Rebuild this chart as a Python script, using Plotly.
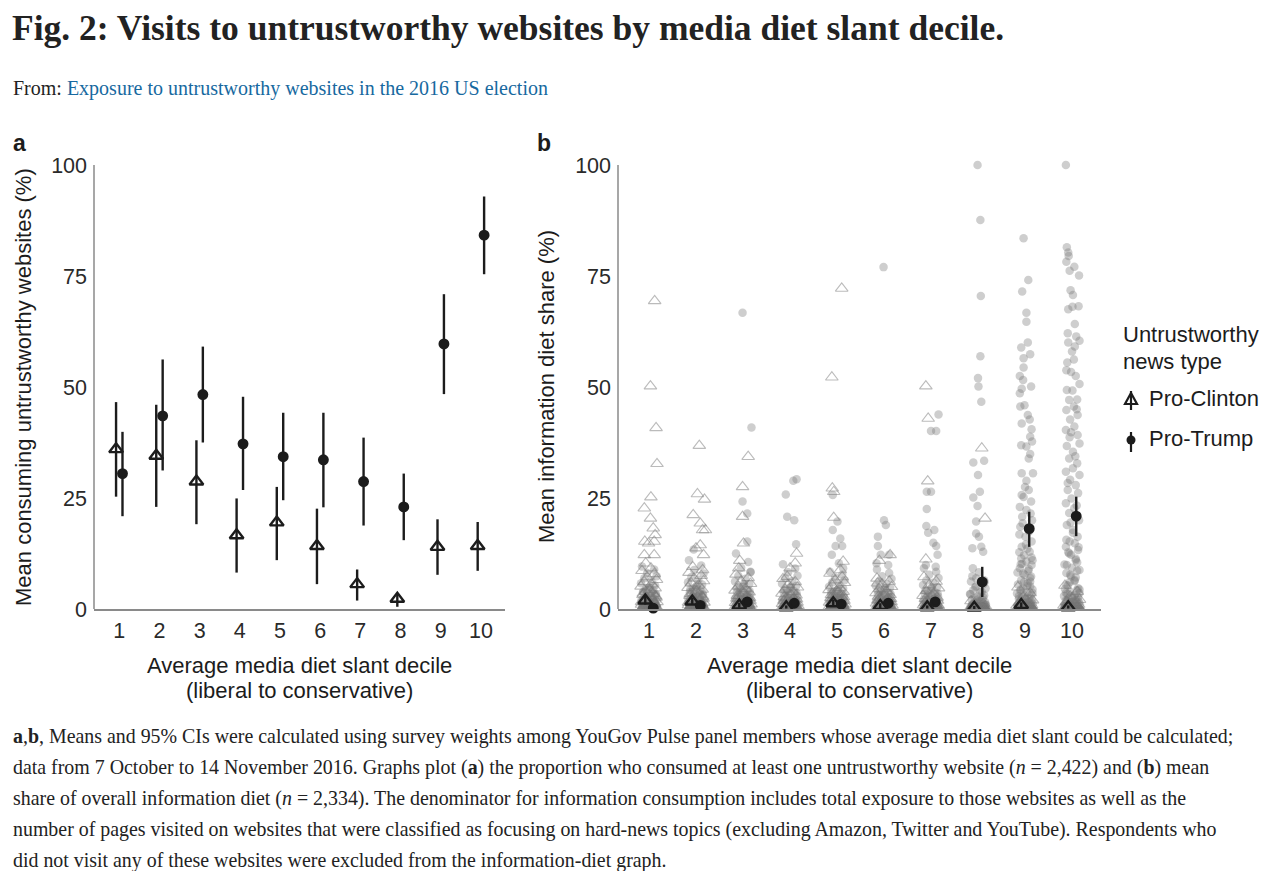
import plotly.graph_objects as go

# ---------------- data ----------------
deciles = [1, 2, 3, 4, 5, 6, 7, 8, 9, 10]
tick_labels = ["1", "2", "3", "4", "5", "6", "7", "8", "9", "10"]
y_ticks = [0, 25, 50, 75, 100]

# Panel a: share consuming untrustworthy websites (%)
a_clinton_mean = [36.0, 34.5, 28.7, 16.6, 19.5, 14.2, 5.6, 2.3, 14.0, 14.2]
a_clinton_lo = [25.3, 23.0, 19.1, 8.2, 11.0, 5.6, 1.9, 0.5, 7.7, 8.6]
a_clinton_hi = [46.6, 46.0, 38.0, 24.9, 27.5, 22.6, 8.9, 3.5, 20.2, 19.6]
a_trump_mean = [30.5, 43.5, 48.3, 37.2, 34.3, 33.6, 28.7, 23.0, 59.7, 84.2]
a_trump_lo = [20.9, 31.2, 37.5, 26.8, 24.5, 22.9, 18.8, 15.5, 48.4, 75.4]
a_trump_hi = [39.9, 56.2, 59.1, 47.8, 44.2, 44.2, 38.6, 30.5, 70.9, 92.9]

# Panel b: mean information diet share (%)
b_clinton_mean = [1.9, 1.7, 0.8, 0.4, 1.3, 0.7, 0.4, 0.3, 0.9, 0.4]
b_clinton_lo = [1.0, 1.0, 0.3, 0.1, 0.6, 0.2, 0.1, 0.0, 0.4, 0.1]
b_clinton_hi = [2.9, 2.5, 1.4, 0.8, 2.1, 1.3, 0.8, 0.7, 1.5, 0.8]
b_trump_mean = [0.2, 0.8, 1.6, 1.3, 1.1, 1.3, 1.6, 6.1, 18.1, 20.9]
b_trump_lo = [0.0, 0.4, 0.9, 0.7, 0.6, 0.7, 0.9, 2.7, 14.0, 16.4]
b_trump_hi = [0.5, 1.3, 2.4, 1.9, 1.7, 2.0, 2.4, 9.5, 21.9, 25.3]

# Panel b: individual respondents (jitter offset, share %)
clinton_high = {
    1: [(0.12, 69.4), (0.03, 50.2), (0.15, 40.8), (0.17, 32.7), (0.04, 25.2), (-0.10, 22.7),
        (0.03, 20.4), (0.09, 18.2), (0.13, 16.7), (-0.09, 15.2), (0.11, 15.2), (-0.01, 14.8),
        (-0.10, 12.2), (0.11, 12.2), (-0.07, 10.3), (0.04, 9.2)],
    2: [(0.07, 36.8), (0.03, 25.9), (0.18, 24.7), (-0.06, 21.2), (0.09, 19.3), (0.14, 17.8),
        (0.20, 17.8), (0.09, 14.4), (0.00, 13.7), (0.16, 12.2), (-0.07, 9.5), (0.14, 8.8)],
    3: [(0.11, 34.3), (-0.01, 27.5), (-0.01, 20.8), (0.01, 14.8), (-0.07, 10.9), (-0.09, 9.2)],
    4: [(0.14, 12.5), (0.11, 10.3), (0.00, 9.2), (-0.06, 7.3)],
    5: [(0.10, 72.2), (-0.11, 52.2), (-0.10, 27.2), (-0.07, 26.4), (-0.07, 20.6), (0.13, 10.7),
        (0.07, 8.8)],
    6: [(0.13, 12.2), (-0.10, 10.9), (-0.14, 5.8)],
    7: [(-0.11, 50.2), (-0.06, 42.9), (-0.07, 28.8), (-0.11, 11.2)],
    8: [(0.08, 36.2), (0.15, 20.4)],
    9: [],
    10: [],
}
trump_high = {
    1: [],
    2: [(-0.05, 13.4)],
    3: [(-0.01, 66.7), (0.18, 40.9), (-0.01, 24.2), (0.09, 21.5), (0.09, 15.2), (0.16, 8.4)],
    4: [(0.14, 29.2), (0.07, 28.9), (-0.09, 25.8), (-0.06, 20.8), (0.09, 20.0), (0.13, 14.6)],
    5: [(-0.09, 25.7), (0.01, 19.7), (-0.09, 17.8), (0.07, 15.9), (-0.03, 14.2), (0.11, 14.2),
        (-0.11, 12.2), (0.04, 10.3), (0.13, 9.2)],
    6: [(-0.01, 77.0), (0.00, 20.0), (0.04, 18.9), (-0.13, 16.3), (-0.13, 14.2), (-0.07, 12.2),
        (0.11, 12.2), (-0.16, 10.3), (0.09, 9.9)],
    7: [(0.16, 43.8), (0.00, 40.1), (0.11, 40.1), (-0.09, 26.4), (0.00, 26.4), (-0.09, 22.5),
        (-0.10, 18.7), (0.07, 17.8), (-0.06, 17.2), (0.05, 14.9), (0.11, 14.2), (0.14, 12.2),
        (-0.11, 9.9), (0.10, 9.5)],
    8: [(-0.01, 100.0), (0.05, 87.6), (0.06, 70.5), (0.05, 56.9), (0.00, 52.0), (0.01, 50.1),
        (0.07, 46.7), (-0.10, 33.0), (0.13, 33.4), (0.00, 30.2), (0.04, 26.4), (-0.10, 25.1),
        (-0.01, 23.2), (-0.04, 19.7), (-0.04, 17.0), (0.02, 16.3), (0.07, 14.0), (-0.12, 13.7),
        (0.11, 12.9), (-0.11, 9.2), (-0.04, 6.9), (0.13, 6.5)],
    9: [(-0.03, 83.5), (0.07, 74.1), (-0.06, 71.5), (0.03, 66.7), (0.03, 64.7), (0.06, 60.0),
        (-0.08, 58.9), (0.11, 57.4), (-0.03, 56.5), (-0.03, 54.4), (-0.11, 52.5), (-0.04, 51.6),
        (0.13, 50.1), (-0.07, 49.6), (-0.11, 48.6), (-0.01, 45.9), (-0.10, 45.6), (0.06, 43.7),
        (0.10, 42.7), (-0.07, 41.8), (0.14, 40.5), (0.11, 38.8), (0.15, 37.7), (-0.08, 36.9),
        (0.03, 36.6), (0.11, 34.9), (0.08, 33.9), (-0.07, 30.6), (0.17, 30.6), (0.03, 28.9),
        (0.00, 27.5), (0.08, 26.8), (-0.07, 25.7), (-0.03, 25.2), (0.13, 24.2), (-0.11, 23.0),
        (0.03, 22.3), (0.12, 21.5), (-0.06, 20.8), (0.15, 20.0), (-0.05, 19.3), (-0.10, 18.5),
        (0.09, 17.5), (-0.12, 16.8), (0.01, 16.3), (0.14, 15.2), (-0.07, 14.0), (0.05, 13.6),
        (0.10, 12.9), (-0.02, 12.1), (-0.08, 11.4), (0.16, 11.0), (0.03, 10.7), (-0.09, 10.1),
        (0.14, 9.9), (-0.11, 9.2), (0.07, 8.6), (-0.04, 8.0), (-0.01, 7.7), (0.13, 7.3),
        (-0.08, 6.5), (0.11, 6.2), (0.06, 5.8)],
    10: [(-0.13, 100.0), (-0.11, 81.5), (-0.08, 80.3), (-0.07, 79.5), (-0.12, 78.2), (0.05, 77.1),
         (-0.05, 76.2), (0.15, 75.1), (-0.03, 71.8), (0.02, 70.7), (0.14, 68.2), (-0.08, 67.5),
         (0.01, 68.1), (0.06, 64.2), (-0.09, 62.1), (0.09, 61.4), (-0.08, 60.0), (0.06, 59.1),
         (0.16, 60.4), (0.00, 58.0), (0.04, 56.2), (-0.10, 55.5), (-0.12, 53.8), (-0.02, 53.4),
         (0.08, 52.5), (0.16, 50.7), (-0.11, 49.3), (0.01, 49.2), (0.11, 47.2), (-0.06, 47.1),
         (0.04, 45.6), (0.10, 45.0), (-0.12, 44.8), (0.12, 43.7), (-0.04, 42.7), (0.05, 41.1),
         (-0.13, 40.3), (-0.02, 39.8), (0.12, 39.2), (-0.05, 38.7), (0.16, 37.3), (-0.11, 36.7),
         (0.02, 35.4), (0.07, 34.4), (-0.06, 33.9), (0.11, 32.8), (0.02, 31.7), (-0.13, 30.9),
         (0.16, 30.2), (-0.04, 29.1), (-0.09, 28.4), (0.08, 27.9), (-0.09, 26.8), (0.13, 26.1),
         (-0.01, 24.9), (-0.13, 23.8), (0.10, 23.3), (0.05, 22.7), (-0.06, 21.6), (0.15, 20.0),
         (-0.03, 19.5), (-0.11, 18.9), (0.02, 17.8), (0.12, 16.3), (-0.05, 15.2), (0.06, 14.8),
         (-0.13, 14.0), (0.13, 13.3), (-0.08, 12.8), (-0.02, 12.2), (0.08, 11.0), (0.11, 10.5),
         (-0.11, 9.9), (0.00, 9.3), (0.16, 8.8), (-0.12, 8.1), (-0.04, 7.7), (0.08, 7.1),
         (0.06, 6.5), (-0.05, 6.0), (-0.12, 5.4), (0.13, 4.7)],
}

# dense low-value cluster: jitter offsets and per-decile shares
jitter_low = [-0.15, 0.11, -0.04, 0.16, -0.10, 0.05, -0.17, 0.13, 0.00, -0.07, 0.09, -0.13,
              0.03, 0.15, -0.05, 0.07, -0.12, 0.17, -0.02, 0.12, -0.16, 0.04, -0.08, 0.14,
              -0.01, 0.10, -0.14, 0.06, -0.11, 0.02, 0.16, -0.06, 0.08, -0.15, 0.12, -0.03]
clinton_low = {
    1: [8.6, 7.9, 7.2, 6.6, 6.1, 5.6, 5.1, 4.7, 4.3, 3.9, 3.5, 3.2, 2.9, 2.6, 2.3, 2.0, 1.8, 1.6,
        1.4, 1.2, 1.0, 0.8, 0.6, 0.5, 0.4, 0.3, 0.2, 0.1, 0.1, 0, 0, 0, 0, 0, 0, 0],
    2: [8.2, 7.5, 6.9, 6.3, 5.8, 5.3, 4.8, 4.4, 4.0, 3.6, 3.3, 3.0, 2.7, 2.4, 2.1, 1.9, 1.7, 1.5,
        1.3, 1.1, 0.9, 0.7, 0.6, 0.5, 0.4, 0.3, 0.2, 0.1, 0.1, 0, 0, 0, 0, 0, 0, 0],
    3: [7.8, 7.0, 6.3, 5.7, 5.1, 4.6, 4.2, 3.8, 3.4, 3.0, 2.7, 2.4, 2.1, 1.9, 1.7, 1.5, 1.3, 1.1,
        0.9, 0.7, 0.6, 0.5, 0.4, 0.3, 0.2, 0.1, 0.1, 0, 0, 0, 0, 0, 0, 0, 0, 0],
    4: [6.8, 6.1, 5.5, 4.9, 4.4, 3.9, 3.5, 3.1, 2.8, 2.5, 2.2, 1.9, 1.7, 1.5, 1.3, 1.1, 0.9, 0.7,
        0.6, 0.5, 0.4, 0.3, 0.2, 0.1, 0.1, 0, 0, 0, 0, 0, 0, 0, 0, 0, 0, 0],
    5: [8.0, 7.2, 6.5, 5.9, 5.3, 4.8, 4.3, 3.9, 3.5, 3.1, 2.8, 2.5, 2.2, 1.9, 1.7, 1.5, 1.3, 1.1,
        0.9, 0.7, 0.6, 0.5, 0.4, 0.3, 0.2, 0.1, 0.1, 0, 0, 0, 0, 0, 0, 0, 0, 0],
    6: [6.9, 6.2, 5.6, 5.0, 4.5, 4.0, 3.6, 3.2, 2.9, 2.6, 2.3, 2.0, 1.8, 1.6, 1.4, 1.2, 1.0, 0.8,
        0.7, 0.5, 0.4, 0.3, 0.2, 0.1, 0.1, 0, 0, 0, 0, 0, 0, 0, 0, 0, 0, 0],
    7: [7.2, 6.2, 5.4, 4.7, 4.1, 3.5, 3.0, 2.6, 2.2, 1.9, 1.6, 1.3, 1.1, 0.9, 0.7, 0.6, 0.5, 0.4,
        0.3, 0.2, 0.1, 0.1, 0, 0, 0, 0, 0, 0, 0, 0, 0, 0, 0, 0, 0, 0],
    8: [1.8, 1.2, 0.8, 0.6, 0.4, 0.3, 0.2, 0.1, 0.1, 0, 0, 0, 0, 0, 0, 0, 0, 0,
        0, 0, 0, 0, 0, 0, 0, 0, 0, 0, 0, 0, 0, 0, 0, 0, 0, 0],
    9: [4.9, 3.6, 2.7, 2.0, 1.5, 1.1, 0.8, 0.6, 0.4, 0.3, 0.2, 0.1, 0.1, 0, 0, 0, 0, 0,
        0, 0, 0, 0, 0, 0, 0, 0, 0, 0, 0, 0, 0, 0, 0, 0, 0, 0],
    10: [5.3, 3.9, 2.9, 2.1, 1.5, 1.1, 0.8, 0.5, 0.3, 0.2, 0.1, 0.1, 0, 0, 0, 0, 0, 0,
         0, 0, 0, 0, 0, 0, 0, 0, 0, 0, 0, 0, 0, 0, 0, 0, 0, 0],
}
trump_low = {
    1: [9.6, 8.9, 8.1, 7.4, 6.9, 6.3, 5.8, 5.3, 4.9, 4.5, 4.1, 3.7, 3.4, 3.1, 2.8, 2.5, 2.2, 2.0,
        1.7, 1.5, 1.3, 1.1, 0.9, 0.7, 0.6, 0.4, 0.3, 0.2, 0.1, 0.1, 0, 0, 0, 0, 0, 0],
    2: [11.0, 9.8, 8.8, 8.0, 7.2, 6.6, 6.0, 5.5, 5.0, 4.6, 4.2, 3.8, 3.5, 3.2, 2.9, 2.6, 2.3, 2.0,
        1.8, 1.6, 1.4, 1.2, 1.0, 0.8, 0.6, 0.5, 0.4, 0.3, 0.2, 0.1, 0, 0, 0, 0, 0, 0],
    3: [12.5, 10.6, 9.3, 8.3, 7.5, 6.8, 6.2, 5.6, 5.1, 4.7, 4.3, 3.9, 3.6, 3.3, 3.0, 2.7, 2.4, 2.1,
        1.9, 1.7, 1.5, 1.3, 1.1, 0.9, 0.7, 0.6, 0.4, 0.3, 0.2, 0.1, 0, 0, 0, 0, 0, 0],
    4: [10.1, 9.1, 8.3, 7.5, 6.9, 6.3, 5.7, 5.2, 4.8, 4.4, 4.0, 3.6, 3.3, 3.0, 2.7, 2.4, 2.2, 1.9,
        1.7, 1.5, 1.3, 1.1, 0.9, 0.7, 0.6, 0.4, 0.3, 0.2, 0.1, 0.1, 0, 0, 0, 0, 0, 0],
    5: [8.4, 7.7, 7.1, 6.5, 6.0, 5.5, 5.0, 4.6, 4.2, 3.9, 3.5, 3.2, 2.9, 2.7, 2.4, 2.2, 1.9, 1.7,
        1.5, 1.3, 1.1, 1.0, 0.8, 0.7, 0.5, 0.4, 0.3, 0.2, 0.1, 0.1, 0, 0, 0, 0, 0, 0],
    6: [8.9, 8.1, 7.4, 6.8, 6.2, 5.7, 5.2, 4.8, 4.4, 4.0, 3.6, 3.3, 3.0, 2.7, 2.4, 2.2, 1.9, 1.7,
        1.5, 1.3, 1.1, 0.9, 0.8, 0.6, 0.5, 0.4, 0.3, 0.2, 0.1, 0.1, 0, 0, 0, 0, 0, 0],
    7: [9.2, 8.4, 7.7, 7.0, 6.4, 5.9, 5.4, 4.9, 4.5, 4.1, 3.7, 3.4, 3.1, 2.8, 2.5, 2.3, 2.0, 1.8,
        1.6, 1.4, 1.2, 1.0, 0.8, 0.7, 0.5, 0.4, 0.3, 0.2, 0.1, 0.1, 0, 0, 0, 0, 0, 0],
    8: [6.2, 5.6, 5.1, 4.6, 4.2, 3.8, 3.4, 3.1, 2.8, 2.5, 2.2, 2.0, 1.8, 1.6, 1.4, 1.2, 1.0, 0.9,
        0.7, 0.6, 0.5, 0.4, 0.3, 0.2, 0.2, 0.1, 0.1, 0, 0, 0, 0, 0, 0, 0, 0, 0],
    9: [5.5, 5.1, 4.7, 4.4, 4.1, 3.8, 3.5, 3.2, 3.0, 2.7, 2.5, 2.3, 2.1, 1.9, 1.7, 1.5, 1.3, 1.2,
        1.0, 0.9, 0.8, 0.6, 0.5, 0.4, 0.3, 0.2, 0.2, 0.1, 0.1, 0, 0, 0, 0, 0, 0, 0],
    10: [4.5, 4.2, 3.9, 3.6, 3.4, 3.1, 2.9, 2.7, 2.5, 2.3, 2.1, 1.9, 1.7, 1.6, 1.4, 1.3, 1.1, 1.0,
         0.9, 0.7, 0.6, 0.5, 0.4, 0.3, 0.3, 0.2, 0.1, 0.1, 0, 0, 0, 0, 0, 0, 0, 0],
}

# second layer of the dense cluster
jitter_extra = [0.02, -0.12, 0.14, -0.06, 0.08, -0.16, 0.11, -0.02, 0.05, -0.09,
                0.16, -0.13, 0.00, 0.12, -0.04, 0.07, -0.15, 0.10, -0.08, 0.03]
clinton_extra = {
    1: [4.2, 3.5, 2.9, 2.4, 2.0, 1.6, 1.3, 1.0, 0.8, 0.6, 0.4, 0.3, 0.2, 0.1, 0, 0, 0, 0, 0, 0],
    2: [4.0, 3.4, 2.8, 2.3, 1.9, 1.5, 1.2, 1.0, 0.8, 0.6, 0.4, 0.3, 0.2, 0.1, 0, 0, 0, 0, 0, 0],
    3: [3.6, 3.0, 2.5, 2.1, 1.7, 1.4, 1.1, 0.9, 0.7, 0.5, 0.4, 0.3, 0.2, 0.1, 0, 0, 0, 0, 0, 0],
    4: [3.2, 2.7, 2.2, 1.8, 1.5, 1.2, 1.0, 0.8, 0.6, 0.4, 0.3, 0.2, 0.1, 0, 0, 0, 0, 0, 0, 0],
    5: [3.8, 3.2, 2.7, 2.2, 1.8, 1.5, 1.2, 1.0, 0.8, 0.6, 0.4, 0.3, 0.2, 0.1, 0, 0, 0, 0, 0, 0],
    6: [3.3, 2.8, 2.3, 1.9, 1.6, 1.3, 1.0, 0.8, 0.6, 0.4, 0.3, 0.2, 0.1, 0, 0, 0, 0, 0, 0, 0],
    7: [2.9, 2.3, 1.9, 1.5, 1.2, 0.9, 0.7, 0.5, 0.4, 0.3, 0.2, 0.1, 0, 0, 0, 0, 0, 0, 0, 0],
    8: [0.9, 0.5, 0.3, 0.2, 0.1, 0, 0, 0, 0, 0, 0, 0, 0, 0, 0, 0, 0, 0, 0, 0],
    9: [2.2, 1.4, 0.9, 0.6, 0.4, 0.2, 0.1, 0, 0, 0, 0, 0, 0, 0, 0, 0, 0, 0, 0, 0],
    10: [2.5, 1.6, 1.0, 0.6, 0.4, 0.2, 0.1, 0, 0, 0, 0, 0, 0, 0, 0, 0, 0, 0, 0, 0],
}
trump_extra = {
    1: [4.6, 3.9, 3.3, 2.8, 2.4, 2.0, 1.7, 1.4, 1.1, 0.9, 0.7, 0.5, 0.4, 0.3, 0.2, 0.1, 0, 0, 0, 0],
    2: [5.2, 4.4, 3.7, 3.1, 2.6, 2.2, 1.8, 1.5, 1.2, 0.9, 0.7, 0.5, 0.4, 0.3, 0.2, 0.1, 0, 0, 0, 0],
    3: [5.6, 4.7, 4.0, 3.4, 2.9, 2.4, 2.0, 1.6, 1.3, 1.0, 0.8, 0.6, 0.4, 0.3, 0.2, 0.1, 0, 0, 0, 0],
    4: [5.0, 4.2, 3.6, 3.0, 2.5, 2.1, 1.7, 1.4, 1.1, 0.9, 0.7, 0.5, 0.4, 0.3, 0.2, 0.1, 0, 0, 0, 0],
    5: [4.4, 3.8, 3.2, 2.7, 2.3, 1.9, 1.6, 1.3, 1.0, 0.8, 0.6, 0.5, 0.4, 0.3, 0.2, 0.1, 0, 0, 0, 0],
    6: [4.7, 4.0, 3.4, 2.9, 2.4, 2.0, 1.7, 1.4, 1.1, 0.9, 0.7, 0.5, 0.4, 0.3, 0.2, 0.1, 0, 0, 0, 0],
    7: [4.9, 4.1, 3.5, 3.0, 2.5, 2.1, 1.7, 1.4, 1.1, 0.9, 0.7, 0.5, 0.4, 0.3, 0.2, 0.1, 0, 0, 0, 0],
    8: [8.3, 7.4, 6.0, 4.9, 3.9, 3.3, 2.6, 2.1, 1.7, 1.3, 1.0, 0.8, 0.6, 0.4, 0.3, 0.2, 0.1, 0, 0, 0],
    9: [14.5, 12.8, 11.6, 10.2, 9.0, 8.2, 7.0, 6.1, 5.2, 4.4, 3.6, 2.9, 2.3, 1.8, 1.3, 0.9, 0.5, 0.2, 0, 0],
    10: [17.2, 15.6, 13.9, 12.5, 11.3, 10.0, 8.6, 7.4, 6.3, 5.3, 4.4, 3.6, 2.8, 2.1, 1.5, 1.0, 0.6, 0.3, 0, 0],
}

title_text = "Fig. 2: Visits to untrustworthy websites by media diet slant decile."
source_text = "Exposure to untrustworthy websites in the 2016 US election"
caption_lines = [
    "<b>a</b>,<b>b</b>, Means and 95% CIs were calculated using survey weights among YouGov Pulse panel members whose average media diet slant could be calculated;",
    "data from 7 October to 14 November 2016. Graphs plot (<b>a</b>) the proportion who consumed at least one untrustworthy website (<i>n</i> = 2,422) and (<b>b</b>) mean",
    "share of overall information diet (<i>n</i> = 2,334). The denominator for information consumption includes total exposure to those websites as well as the",
    "number of pages visited on websites that were classified as focusing on hard-news topics (excluding Amazon, Twitter and YouTube). Respondents who",
    "did not visit any of these websites were excluded from the information-diet graph.",
]

# ---------------- figure ----------------
W, H = 1266, 871
SANS = "Liberation Sans, Arial, sans-serif"
SERIF = "Liberation Serif, Times New Roman, serif"
INK = "#1c1c1c"
AXIS = "#8a8a8a"


def px(x):
    return x / W


def py(y):
    return 1 - y / H


fig = go.Figure()

# ---- panel b individual points ----
cx, cy, tx, ty = [], [], [], []
for d in deciles:
    for dx, v in clinton_high[d]:
        cx.append(d + dx)
        cy.append(v)
    for dx, v in zip(jitter_low, clinton_low[d]):
        cx.append(d + dx)
        cy.append(v)
    for dx, v in zip(jitter_extra, clinton_extra[d]):
        cx.append(d + dx)
        cy.append(v)
    for dx, v in trump_high[d]:
        tx.append(d + dx)
        ty.append(v)
    for dx, v in zip(jitter_low, trump_low[d]):
        tx.append(d + dx)
        ty.append(v)
    for dx, v in zip(jitter_extra, trump_extra[d]):
        tx.append(d + dx)
        ty.append(v)

fig.add_trace(go.Scatter(
    x=tx, y=ty, mode="markers", xaxis="x2", yaxis="y2", showlegend=False, hoverinfo="skip",
    marker=dict(symbol="circle", size=8.5, color="rgba(120,120,120,0.36)", line=dict(width=0)),
))
fig.add_trace(go.Scatter(
    x=cx, y=cy, mode="markers", xaxis="x2", yaxis="y2", showlegend=False, hoverinfo="skip",
    marker=dict(symbol="triangle-up-open", size=11, color="rgba(120,120,120,0.5)",
                line=dict(width=1.1, color="rgba(120,120,120,0.5)")),
))


def mean_trace(xs, mean, lo, hi, symbol, size, xa, ya, dodge):
    return go.Scatter(
        x=[d + dodge for d in xs], y=mean, mode="markers", xaxis=xa, yaxis=ya,
        showlegend=False, cliponaxis=False, hoverinfo="skip",
        error_y=dict(type="data", symmetric=False,
                     array=[h - m for h, m in zip(hi, mean)],
                     arrayminus=[m - l for m, l in zip(mean, lo)],
                     color=INK, thickness=2.4, width=0),
        marker=dict(symbol=symbol, size=size, color=INK, line=dict(width=2.4, color=INK)),
    )


# panel a
fig.add_trace(mean_trace(deciles, a_clinton_mean, a_clinton_lo, a_clinton_hi,
                         "triangle-up-open", 12, "x", "y", -0.08))
fig.add_trace(mean_trace(deciles, a_trump_mean, a_trump_lo, a_trump_hi,
                         "circle", 8.5, "x", "y", 0.08))
# panel b
fig.add_trace(mean_trace(deciles, b_clinton_mean, b_clinton_lo, b_clinton_hi,
                         "triangle-up-open", 12, "x2", "y2", -0.08))
fig.add_trace(mean_trace(deciles, b_trump_mean, b_trump_lo, b_trump_hi,
                         "circle", 8.5, "x2", "y2", 0.09))

ydom = [py(609), py(609 - 103 * 4.44)]
xcommon = dict(tickmode="array", tickvals=deciles, ticktext=tick_labels, showgrid=False,
               zeroline=False, ticks="", showline=True, linecolor=AXIS, linewidth=1.5,
               tickfont=dict(family=SANS, size=21.5, color="#2a2a2a"), ticklabelstandoff=1,
               fixedrange=True, automargin=False)
ycommon = dict(tickmode="array", tickvals=y_ticks, ticktext=[str(v) for v in y_ticks],
               range=[0, 103], showgrid=False, zeroline=False, ticks="", showline=False,
               tickfont=dict(family=SANS, size=21.5, color="#2a2a2a"), ticklabelstandoff=6,
               domain=ydom, fixedrange=True, automargin=False)

fig.update_layout(
    width=W, height=H, margin=dict(l=0, r=0, t=0, b=0, autoexpand=False),
    paper_bgcolor="white", plot_bgcolor="rgba(0,0,0,0)", showlegend=False,
    xaxis=dict(xcommon, domain=[px(94), px(505)], range=[0.371, 10.6], anchor="y"),
    yaxis=dict(ycommon, anchor="x"),
    xaxis2=dict(xcommon, domain=[px(618), px(1101)], range=[0.34, 10.617], anchor="y2"),
    yaxis2=dict(ycommon, anchor="x2"),
)

shapes = [
    dict(type="line", xref="x domain", yref="y", x0=0, x1=0, y0=0, y1=100,
         line=dict(color=AXIS, width=1.5)),
    dict(type="line", xref="x2 domain", yref="y2", x0=0, x1=0, y0=0, y1=100,
         line=dict(color=AXIS, width=1.5)),
    # legend keys
    dict(type="line", xref="paper", yref="paper", x0=px(1131), x1=px(1131), y0=py(391), y1=py(410),
         line=dict(color=INK, width=2.2)),
    dict(type="path", xref="paper", yref="paper",
         path=f"M {px(1125)} {py(404)} L {px(1137)} {py(404)} L {px(1131)} {py(393)} Z",
         line=dict(color=INK, width=2.2)),
    dict(type="line", xref="paper", yref="paper", x0=px(1131), x1=px(1131), y0=py(432), y1=py(452),
         line=dict(color=INK, width=2.2)),
    dict(type="circle", xref="paper", yref="paper", x0=px(1126.5), x1=px(1135.5),
         y0=py(444.5), y1=py(435.5), fillcolor=INK, line=dict(color=INK, width=0)),
]
fig.update_layout(shapes=shapes)

ann = []


def text(x, y, s, size, family=SANS, color=INK, xanchor="left", angle=0):
    ann.append(dict(x=px(x), y=py(y), xref="paper", yref="paper", text=s, showarrow=False,
                    xanchor=xanchor, yanchor="middle", textangle=angle,
                    font=dict(family=family, size=size, color=color)))


text(10, 28, f"<b>{title_text}</b>", 35.5, SERIF, "#222222")
text(11, 88, "From: <span style='color:#1769a0'>" + source_text + "</span>", 20, SERIF, "#222222")
text(11, 143, "<b>a</b>", 23, SANS)
text(535, 143, "<b>b</b>", 23, SANS)

# axis titles
text(299.5, 665, "Average media diet slant decile", 22, xanchor="center")
text(299.5, 690, "(liberal to conservative)", 22, xanchor="center")
text(859.5, 665, "Average media diet slant decile", 22, xanchor="center")
text(859.5, 690, "(liberal to conservative)", 22, xanchor="center")
text(23, 387, "Mean consuming untrustworthy websites (%)", 22, xanchor="center", angle=-90)
text(546, 387, "Mean information diet share (%)", 22, xanchor="center", angle=-90)

# legend
text(1121, 335, "Untrustworthy", 22)
text(1121, 361, "news type", 22)
text(1147, 398, "Pro-Clinton", 22)
text(1147, 438, "Pro-Trump", 22)

# caption
for i, line in enumerate(caption_lines):
    text(11, 736 + 31 * i, line, 19.9, SERIF, "#222222")

fig.update_layout(annotations=ann)

fig.write_html("out.html", post_script="document.body.style.margin='0';",
               config={"displayModeBar": False})
